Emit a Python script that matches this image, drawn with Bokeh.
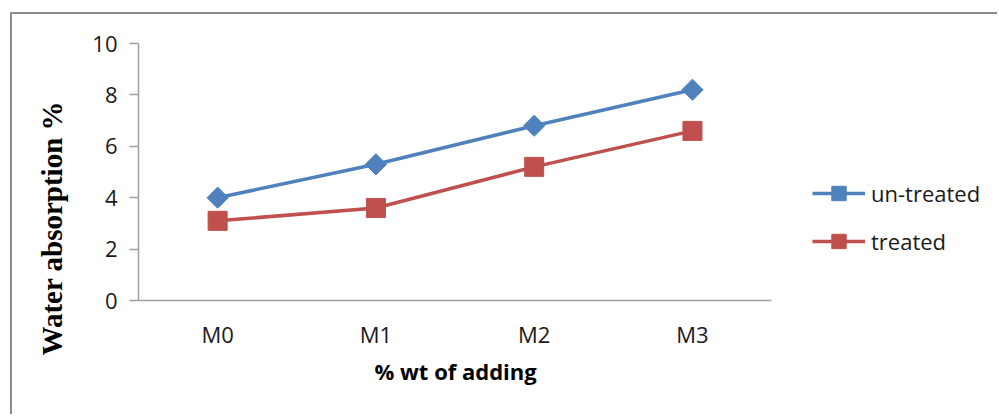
import math

from bokeh.embed import file_html
from bokeh.models import FixedTicker, Legend, LegendItem, Range1d, Title
from bokeh.plotting import figure
from bokeh.resources import INLINE

# Water absorption (%) for each mix, with and without treatment
mixes = ["M0", "M1", "M2", "M3"]
untreated = [4.0, 5.3, 6.8, 8.2]
treated = [3.1, 3.6, 5.2, 6.6]
y_ticks = [0, 2, 4, 6, 8, 10]

# one slot per mix on a numeric axis; the frame runs on to the right
# so the legend can sit inside it without being clipped
slots = list(range(1, len(mixes) + 1))
x_lo, x_hi = 0.5, len(mixes) + 0.5

BLUE = "#4f81bd"
RED = "#c0504d"
AXIS_GREY = "#a0a0a0"
TEXT = "#1a1a1a"
SANS = "Open Sans"

p = figure(
    width=987, height=402,
    x_range=Range1d(x_lo, 5.94), y_range=Range1d(0, 10),
    output_backend="svg", toolbar_location=None, title=None,
    min_border_left=125, min_border_right=0,
    min_border_top=29, min_border_bottom=116,
)
# chart frame: grey rule along the left and top edges
p.styles = {
    "margin-left": "10px",
    "margin-top": "12px",
    "border-left": "2px solid #8c8c8c",
    "border-top": "2px solid #8c8c8c",
}

p.outline_line_color = None
p.xgrid.grid_line_color = None
p.ygrid.grid_line_color = None
p.background_fill_color = "white"
p.border_fill_color = "white"

# series
r_u_line = p.line(slots, untreated, line_color=BLUE, line_width=3.5)
r_u_pts = p.scatter(slots, untreated, marker="square", angle=math.pi / 4,
                    size=15, fill_color=BLUE, line_color=BLUE)
r_t_line = p.line(slots, treated, line_color=RED, line_width=3.5)
r_t_pts = p.scatter(slots, treated, marker="square", size=19,
                    fill_color=RED, line_color=RED)

# y axis
yax = p.yaxis[0]
yax.ticker = FixedTicker(ticks=y_ticks)
yax.minor_tick_line_color = None
yax.major_tick_in = 0
yax.major_tick_out = 9
yax.axis_line_color = AXIS_GREY
yax.axis_line_width = 1.5
yax.major_tick_line_color = AXIS_GREY
yax.major_tick_line_width = 1.5
yax.major_label_text_font = SANS
yax.major_label_text_font_size = "22px"
yax.major_label_text_color = TEXT
yax.major_label_standoff = 12

# vertical axis title, set a little below the middle of the axis
p.add_layout(Title(
    text="Water absorption %", align="left", offset=-55, standoff=43,
    text_font="Liberation Serif", text_font_style="bold",
    text_font_size="29px", text_color="black",
), "left")

# x axis: category names at the slot centres, line limited to the slots
xax = p.xaxis[0]
xax.ticker = FixedTicker(ticks=slots)
xax.major_label_overrides = {s: m for s, m in zip(slots, mixes)}
xax.bounds = (x_lo, x_hi)
xax.major_tick_in = 0
xax.major_tick_out = 0
xax.minor_tick_line_color = None
xax.axis_line_color = AXIS_GREY
xax.axis_line_width = 1.5
xax.major_label_text_font = SANS
xax.major_label_text_font_size = "22px"
xax.major_label_text_color = TEXT
xax.major_label_standoff = 18

# horizontal axis title, centred under the four slots
p.add_layout(Title(
    text="% wt of adding", align="left", offset=236,
    vertical_align="top", standoff=8,
    text_font=SANS, text_font_style="bold",
    text_font_size="22px", text_color="black",
), "below")

legend = Legend(
    items=[
        LegendItem(label="un-treated", renderers=[r_u_line, r_u_pts]),
        LegendItem(label="treated", renderers=[r_t_line, r_t_pts]),
    ],
    location=(674, 41),
    orientation="vertical",
    padding=0, margin=0, spacing=12,
    glyph_width=53, glyph_height=36, label_height=36,
    label_standoff=6,
    label_text_font=SANS, label_text_font_size="22px", label_text_color=TEXT,
    border_line_color=None, background_fill_alpha=0,
)
p.add_layout(legend, "center")

open("out.html", "w").write(file_html(p, INLINE))
